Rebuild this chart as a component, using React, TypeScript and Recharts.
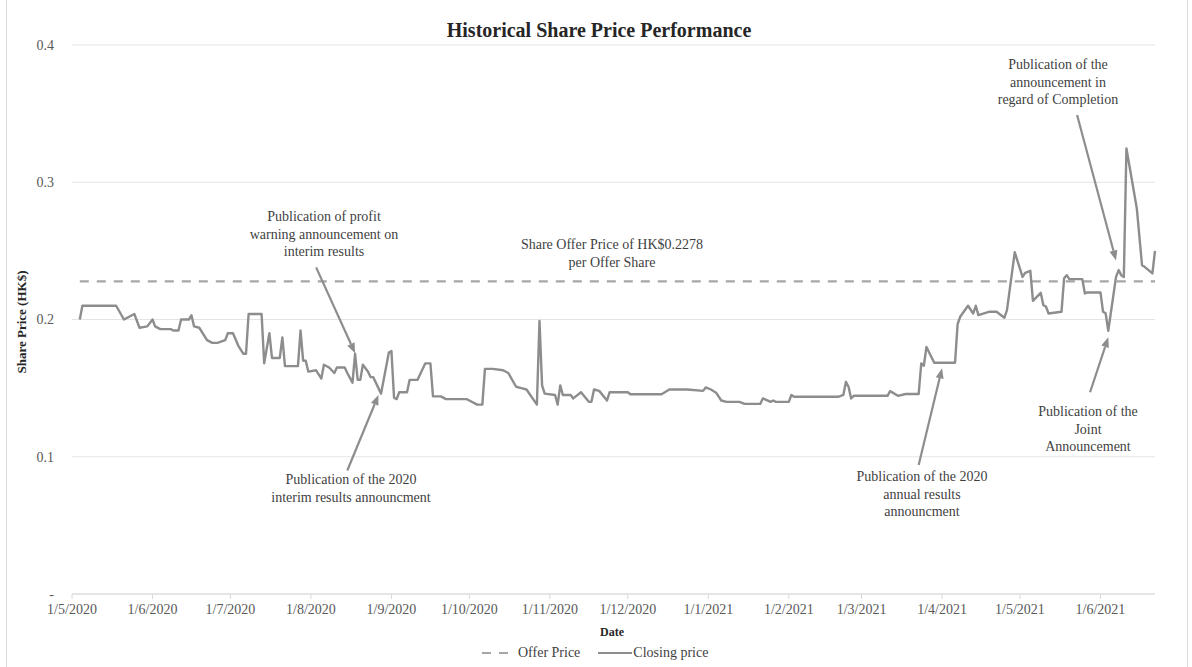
import React from "react";
import { LineChart, Line, XAxis, YAxis, CartesianGrid, ReferenceLine } from "recharts";

// ---------- DATA ----------
const dates = [
  "2020-05-04", "2020-05-05", "2020-05-18", "2020-05-21", "2020-05-25", "2020-05-27", "2020-05-30",
  "2020-06-01", "2020-06-02", "2020-06-04", "2020-06-08", "2020-06-09", "2020-06-11", "2020-06-12",
  "2020-06-15", "2020-06-16", "2020-06-17", "2020-06-19", "2020-06-22", "2020-06-24", "2020-06-26",
  "2020-06-29", "2020-06-30", "2020-07-02", "2020-07-04", "2020-07-06", "2020-07-07", "2020-07-08",
  "2020-07-10", "2020-07-13", "2020-07-14", "2020-07-16", "2020-07-17", "2020-07-20", "2020-07-21",
  "2020-07-22", "2020-07-27", "2020-07-28", "2020-07-29", "2020-07-30", "2020-07-31", "2020-08-03",
  "2020-08-05", "2020-08-06", "2020-08-08", "2020-08-10", "2020-08-11", "2020-08-14", "2020-08-15",
  "2020-08-17", "2020-08-18", "2020-08-19", "2020-08-20", "2020-08-21", "2020-08-23", "2020-08-24",
  "2020-08-25", "2020-08-28", "2020-08-31", "2020-09-01", "2020-09-02", "2020-09-03", "2020-09-04",
  "2020-09-07", "2020-09-08", "2020-09-11", "2020-09-14", "2020-09-16", "2020-09-17", "2020-09-20",
  "2020-09-22", "2020-09-30", "2020-10-01", "2020-10-04", "2020-10-06", "2020-10-07", "2020-10-10",
  "2020-10-14", "2020-10-16", "2020-10-19", "2020-10-21", "2020-10-23", "2020-10-27", "2020-10-28",
  "2020-10-29", "2020-10-30", "2020-11-03", "2020-11-04", "2020-11-05", "2020-11-06", "2020-11-09",
  "2020-11-10", "2020-11-13", "2020-11-16", "2020-11-17", "2020-11-18", "2020-11-20", "2020-11-23",
  "2020-11-24", "2020-12-01", "2020-12-02", "2020-12-14", "2020-12-17", "2020-12-24", "2020-12-30",
  "2020-12-31", "2021-01-02", "2021-01-04", "2021-01-06", "2021-01-08", "2021-01-13", "2021-01-15",
  "2021-01-21", "2021-01-22", "2021-01-25", "2021-01-26", "2021-01-27", "2021-02-01", "2021-02-02",
  "2021-02-03", "2021-02-20", "2021-02-22", "2021-02-23", "2021-02-24", "2021-02-25", "2021-02-26",
  "2021-03-11", "2021-03-12", "2021-03-15", "2021-03-18", "2021-03-23", "2021-03-24", "2021-03-25",
  "2021-03-26", "2021-03-29", "2021-04-06", "2021-04-07", "2021-04-08", "2021-04-11", "2021-04-13",
  "2021-04-14", "2021-04-15", "2021-04-19", "2021-04-22", "2021-04-25", "2021-04-26", "2021-04-29",
  "2021-05-02", "2021-05-03", "2021-05-05", "2021-05-06", "2021-05-09", "2021-05-10", "2021-05-11",
  "2021-05-12", "2021-05-17", "2021-05-18", "2021-05-19", "2021-05-20", "2021-05-25", "2021-05-26",
  "2021-05-27", "2021-06-01", "2021-06-02", "2021-06-03", "2021-06-04", "2021-06-07", "2021-06-08",
  "2021-06-09", "2021-06-10", "2021-06-11", "2021-06-15", "2021-06-17", "2021-06-18", "2021-06-21",
  "2021-06-22",
];

const closingPrices = [
  0.2, 0.21, 0.21, 0.2, 0.204, 0.194, 0.195,
  0.2, 0.195, 0.193, 0.193, 0.192, 0.192, 0.2,
  0.2, 0.203, 0.195, 0.194, 0.185, 0.183, 0.183,
  0.185, 0.19, 0.19, 0.181, 0.175, 0.175, 0.204,
  0.204, 0.204, 0.168, 0.19, 0.172, 0.172, 0.187,
  0.166, 0.166, 0.192, 0.17, 0.17, 0.162, 0.163,
  0.157, 0.167, 0.165, 0.161, 0.165, 0.165, 0.161,
  0.154, 0.175, 0.156, 0.156, 0.167, 0.162, 0.158,
  0.158, 0.146, 0.176, 0.177, 0.143, 0.142, 0.147,
  0.147, 0.156, 0.156, 0.168, 0.168, 0.144, 0.144,
  0.142, 0.142, 0.141, 0.138, 0.138, 0.164, 0.164,
  0.163, 0.161, 0.151, 0.15, 0.149, 0.138, 0.199,
  0.152, 0.146, 0.145, 0.138, 0.152, 0.145, 0.145,
  0.1425, 0.147, 0.14, 0.14, 0.149, 0.148, 0.141,
  0.147, 0.147, 0.1455, 0.1455, 0.149, 0.149, 0.148,
  0.1505, 0.149, 0.1467, 0.141, 0.14, 0.14, 0.1385,
  0.1385, 0.1425, 0.14, 0.141, 0.14, 0.14, 0.145,
  0.1437, 0.1437, 0.145, 0.1546, 0.151, 0.1425, 0.1444,
  0.1444, 0.1478, 0.1444, 0.1457, 0.1457, 0.168, 0.1663,
  0.18, 0.1685, 0.1685, 0.1966, 0.202, 0.21, 0.2044,
  0.21, 0.2032, 0.2056, 0.2056, 0.2013, 0.2068, 0.249,
  0.231, 0.234, 0.2355, 0.2136, 0.2194, 0.2105, 0.2095,
  0.2044, 0.2056, 0.23, 0.2323, 0.2294, 0.2294, 0.219,
  0.2197, 0.2197, 0.2056, 0.2045, 0.1918, 0.2311, 0.236,
  0.2323, 0.231, 0.3246, 0.2809, 0.2396, 0.2384, 0.2336,
  0.25,
];

const OFFER_PRICE = 0.2278;

const monthTicks = [
  "2020-05-01", "2020-06-01", "2020-07-01", "2020-08-01", "2020-09-01", "2020-10-01", "2020-11-01",
  "2020-12-01", "2021-01-01", "2021-02-01", "2021-03-01", "2021-04-01", "2021-05-01", "2021-06-01",
];
const axisStart = "2020-05-01";
const axisEnd = "2021-06-22";
const yTicks = [0, 0.1, 0.2, 0.3, 0.4];

// annotation arrows (tail -> head) in data coordinates
const arrows = [
  { fromDate: "2020-08-03", fromValue: 0.238, toDate: "2020-08-18", toValue: 0.1755 },
  { fromDate: "2020-08-15", fromValue: 0.09, toDate: "2020-08-27", toValue: 0.145 },
  { fromDate: "2021-03-23", fromValue: 0.094, toDate: "2021-04-01", toValue: 0.1644 },
  { fromDate: "2021-05-28", fromValue: 0.147, toDate: "2021-06-04", toValue: 0.187 },
  { fromDate: "2021-05-23", fromValue: 0.349, toDate: "2021-06-07", toValue: 0.243 },
];

// ---------- helpers ----------
const START = Date.parse(axisStart + "T00:00:00Z");
const dayOf = (s: string) => (Date.parse(s + "T00:00:00Z") - START) / 86400000;
const fmtDay = (d: number) => {
  const dt = new Date(START + Math.round(d) * 86400000);
  return `${dt.getUTCDate()}/${dt.getUTCMonth() + 1}/${dt.getUTCFullYear()}`;
};

const data = dates.map((d, i) => ({ t: dayOf(d), close: closingPrices[i], offer: OFFER_PRICE }));

const FONT = '"Liberation Serif", "Times New Roman", serif';
const GREY = "#8d8d8d";

const ArrowShape = (props: any) => {
  const x1 = Number(props.x1), y1 = Number(props.y1), x2 = Number(props.x2), y2 = Number(props.y2);
  const ang = Math.atan2(y2 - y1, x2 - x1);
  const L = 10, W = 4;
  const bx = x2 - L * Math.cos(ang), by = y2 - L * Math.sin(ang);
  const px = -Math.sin(ang) * W, py = Math.cos(ang) * W;
  return (
    <g>
      <line x1={x1} y1={y1} x2={bx} y2={by} stroke={GREY} strokeWidth={2.2} />
      <polygon points={`${x2},${y2} ${bx + px},${by + py} ${bx - px},${by - py}`} fill={GREY} />
    </g>
  );
};

const textStyle: React.CSSProperties = {
  position: "absolute",
  fontFamily: FONT,
  fontSize: 14,
  lineHeight: "17.5px",
  color: "#3f3f3f",
  textAlign: "center",
  whiteSpace: "pre",
  transform: "translateX(-50%)",
  pointerEvents: "none",
};

const Note = ({ x, top, lines }: { x: number; top: number; lines: string[] }) => (
  <div style={{ ...textStyle, left: x, top }}>{lines.join("\n")}</div>
);

export default function App() {
  return (
    <div style={{ position: "absolute", left: 0, top: 0, width: 1192, height: 667, background: "#fff", overflow: "hidden" }}>
      <div style={{ position: "absolute", left: 6, top: 0, width: 1, height: 667, background: "#dcdcdc" }} />
      <div style={{ position: "absolute", left: 1187, top: 0, width: 1, height: 667, background: "#dcdcdc" }} />
      <LineChart width={1192} height={667} data={data} margin={{ top: 45, right: 37, left: 0, bottom: 0 }}>
        <CartesianGrid vertical={false} stroke="#e4e4e4" strokeWidth={1.2} />
        <XAxis
          dataKey="t"
          type="number"
          domain={[0, dayOf(axisEnd)]}
          ticks={monthTicks.map(dayOf)}
          tickFormatter={fmtDay}
          height={73}
          axisLine={{ stroke: "#d9d9d9" }}
          tickLine={{ stroke: "#d9d9d9" }}
          tickSize={5}
          tickMargin={5}
          tick={{ fontFamily: FONT, fontSize: 14, fill: "#595959" }}
          interval={0}
        />
        <YAxis
          domain={[0, 0.4]}
          ticks={yTicks}
          width={72}
          axisLine={false}
          tickLine={false}
          tickSize={0}
          tickMargin={18}
          tickFormatter={(v: number) => (v === 0 ? "-" : v.toFixed(1))}
          tick={{ fontFamily: FONT, fontSize: 14, fill: "#595959" }}
        />
        <Line
          dataKey="offer"
          type="linear"
          stroke="#a6a6a6"
          strokeWidth={2.4}
          strokeDasharray="9 8"
          dot={false}
          isAnimationActive={false}
        />
        <Line
          dataKey="close"
          type="linear"
          stroke={GREY}
          strokeWidth={2.4}
          strokeLinejoin="round"
          dot={false}
          isAnimationActive={false}
        />
        {arrows.map((a, i) => (
          <ReferenceLine
            key={i}
            ifOverflow="visible"
            segment={[
              { x: dayOf(a.fromDate), y: a.fromValue },
              { x: dayOf(a.toDate), y: a.toValue },
            ]}
            shape={ArrowShape}
          />
        ))}
      </LineChart>

      {/* Title */}
      <div
        style={{
          position: "absolute", left: 599, top: 17, transform: "translateX(-50%)", whiteSpace: "pre",
          fontFamily: FONT, fontWeight: "bold", fontSize: 20, color: "#262626", lineHeight: "26px",
        }}
      >
        Historical Share Price Performance
      </div>

      {/* Y axis title */}
      <div
        style={{
          position: "absolute", left: 22, top: 322, transform: "translate(-50%, -50%) rotate(-90deg)",
          whiteSpace: "pre", fontFamily: FONT, fontWeight: "bold", fontSize: 13, color: "#262626",
        }}
      >
        Share Price (HK$)
      </div>

      {/* X axis title */}
      <div
        style={{
          position: "absolute", left: 612, top: 624, transform: "translateX(-50%)", whiteSpace: "pre",
          fontFamily: FONT, fontWeight: "bold", fontSize: 12, color: "#262626", lineHeight: "16px",
        }}
      >
        Date
      </div>

      {/* Annotations */}
      <Note x={324} top={208} lines={["Publication of profit", "warning announcement on", "interim results"]} />
      <Note x={351} top={471} lines={["Publication of the 2020", "interim results announcment"]} />
      <Note x={612} top={236} lines={["Share Offer Price of HK$0.2278", "per Offer Share"]} />
      <Note x={1058} top={56} lines={["Publication of the", "announcement in", "regard of Completion"]} />
      <Note x={1088} top={403} lines={["Publication of the", "Joint", "Announcement"]} />
      <Note x={922} top={468} lines={["Publication of the 2020", "annual results", "announcment"]} />

      {/* Legend */}
      <div
        style={{
          position: "absolute", left: 480, top: 644, height: 18, display: "flex", alignItems: "center",
          fontFamily: FONT, fontSize: 14, color: "#3f3f3f", whiteSpace: "pre",
        }}
      >
        <svg width={30} height={10} style={{ marginRight: 8 }}>
          <line x1={2} y1={5} x2={28} y2={5} stroke="#a6a6a6" strokeWidth={2} strokeDasharray="9 8" />
        </svg>
        <span>Offer Price</span>
        <svg width={36} height={10} style={{ marginLeft: 17 }}>
          <line x1={1} y1={5} x2={35} y2={5} stroke={GREY} strokeWidth={2} />
        </svg>
        <span>Closing price</span>
      </div>
    </div>
  );
}
